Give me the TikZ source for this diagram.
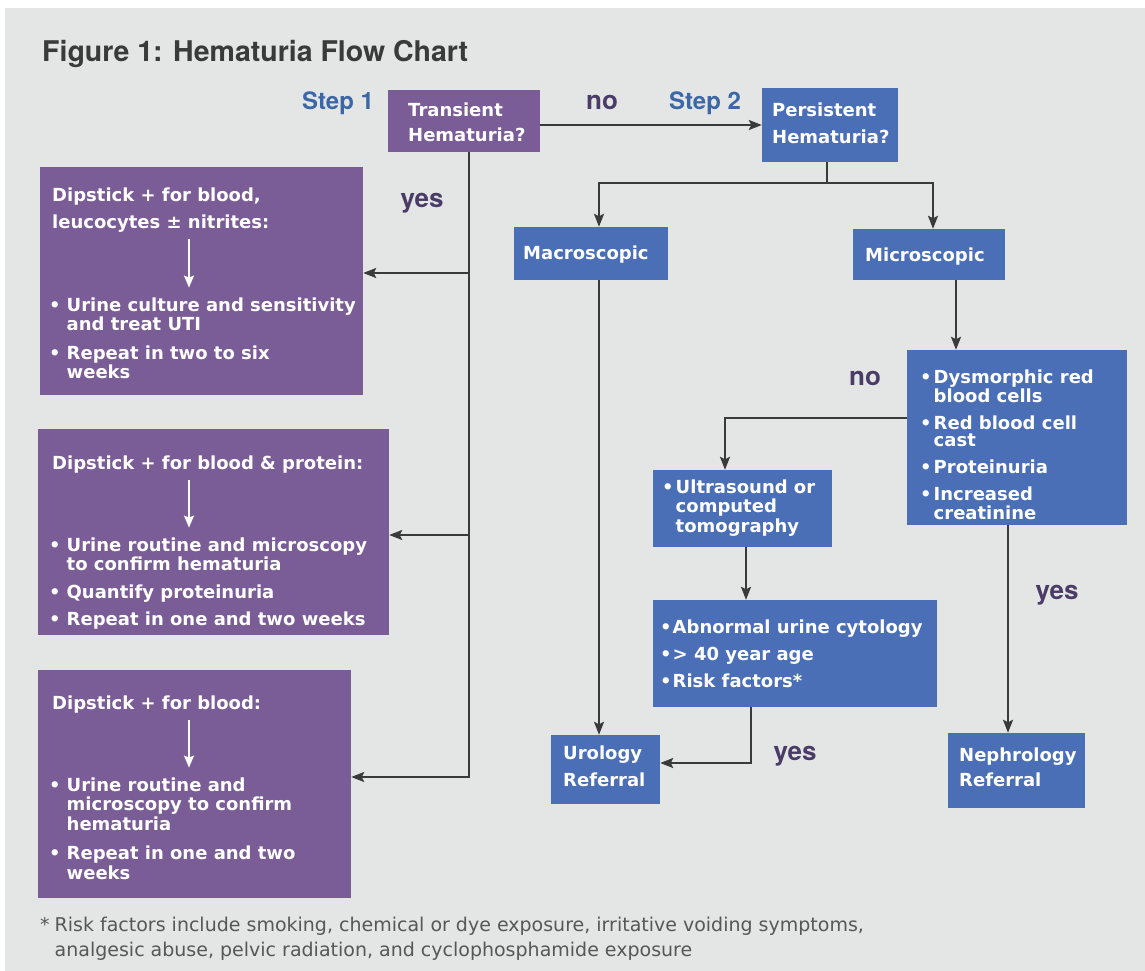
\documentclass[tikz,border=0pt]{standalone}
\usepackage{fontspec}
\setmainfont{TeX Gyre Heros}
\newfontfamily\boxfont{DejaVu Sans}
\usetikzlibrary{arrows.meta}
\definecolor{bgc}{RGB}{227,230,229}
\definecolor{purp}{RGB}{122,92,151}
\definecolor{blu}{RGB}{74,111,183}
\definecolor{stepc}{RGB}{60,102,166}
\definecolor{ansc}{RGB}{74,59,103}
\definecolor{linec}{RGB}{58,58,58}
\newcommand\lines[1]{\begin{tabular}[t]{@{}l@{}}#1\end{tabular}}
\newcommand\blist[2][2pt]{\begin{tabular}[t]{@{}l@{\hspace{#1}}l@{}}#2\end{tabular}}

\begin{document}
\begin{tikzpicture}[x=1pt, y=-1pt, >={Stealth[length=13pt,width=10pt,inset=2.5pt]}, pb/.style={fill=purp, inner sep=0pt}, bb/.style={fill=blu, inner sep=0pt}, tx/.style={anchor=base west, inner sep=0pt, text=white, font=\boxfont\bfseries\fontsize{18pt}{#1}\selectfont}, tx/.default=19pt, ln/.style={draw=linec, line width=2pt}, wa/.style={draw=white, line width=1.8pt, -{Stealth[length=12pt,width=10pt,inset=2pt]}, shorten <=2pt, shorten >=10pt}, stp/.style={anchor=base, inner sep=0pt, text=stepc, font=\bfseries\fontsize{24pt}{24pt}\selectfont}, ans/.style={anchor=base, inner sep=0pt, text=ansc, font=\bfseries\fontsize{26pt}{26pt}\selectfont}]
	\useasboundingbox (0,0) rectangle (1145,971);
	\fill[white] (0,0) rectangle (1145,971);
	\fill[bgc] (5,8) rectangle (1145,971);
	\node[anchor=base west, inner sep=0pt, text=linec, font=\bfseries\fontsize{28.5pt}{30pt}\selectfont] (title) at (42,62) {Figure 1: Hematuria Flow Chart};
	\node[pb, minimum width=152pt, minimum height=62pt] (trans) at (464,121) {};
	\node[tx=25pt] (trans-t) at (408,116.5) {\lines{Transient\\Hematuria?}};
	\node[bb, minimum width=136pt, minimum height=74pt] (pers) at (830,125) {};
	\node[tx=27pt] (pers-t) at (772,116.5) {\lines{Persistent\\Hematuria?}};
	\node[bb, minimum width=154pt, minimum height=53pt] (macro) at (591,253.5) {};
	\node[tx] (macro-t) at (523,259.5) {Macroscopic};
	\node[bb, minimum width=152pt, minimum height=51pt] (micro) at (929,254.5) {};
	\node[tx] (micro-t) at (865,261.5) {Microscopic};
	\node[bb, minimum width=220pt, minimum height=175pt] (dysm) at (1017,437.5) {};
	\node[tx=17pt] (dysm-t) at (920,383.5) {\blist{•&Dysmorphic red\\&blood cells\\[8pt]•&Red blood cell\\&cast\\[8pt]•&Proteinuria\\[8pt]•&Increased\\&creatinine}};
	\node[bb, minimum width=179pt, minimum height=77pt] (ultra) at (742.5,508.5) {};
	\node[tx] (ultra-t) at (662,493.5) {\blist{•&Ultrasound or\\&computed\\&tomography}};
	\node[bb, minimum width=284pt, minimum height=107pt] (abn) at (795,653.5) {};
	\node[tx] (abn-t) at (660,633.5) {\blist[1pt]{•&Abnormal urine cytology\\[8pt]•&> 40 year age\\[8pt]•&Risk factors*}};
	\node[bb, minimum width=109pt, minimum height=69pt] (uro) at (605.5,769.5) {};
	\node[tx=27pt] (uro-t) at (563,759.5) {\lines{Urology\\Referral}};
	\node[bb, minimum width=137pt, minimum height=75pt] (neph) at (1016.5,770.5) {};
	\node[tx=25pt] (neph-t) at (959,761.5) {\lines{Nephrology\\Referral}};
	\node[pb, minimum width=323pt, minimum height=228pt] (d1) at (201.5,281) {};
	\node[pb, minimum width=351pt, minimum height=206pt] (d2) at (213.5,532) {};
	\node[pb, minimum width=313pt, minimum height=228pt] (d3) at (194.5,784) {};
	\node[tx=27pt] (hd1) at (52,201.5) {\lines{Dipstick + for blood,\\leucocytes ± nitrites:}};
	\node[tx=27pt] (hd2) at (52,469.5) {\lines{Dipstick + for blood \& protein:}};
	\node[tx=27pt] (hd3) at (52,709.5) {\lines{Dipstick + for blood:}};
	\node[tx] (ls1) at (49,311.5) {\blist[6pt]{•&Urine culture and sensitivity\\&and treat UTI\\[9pt]•&Repeat in two to six\\&weeks}};
	\node[tx] (ls2) at (49,551.5) {\blist[6pt]{•&Urine routine and microscopy\\&to confirm hematuria\\[8pt]•&Quantify proteinuria\\[8pt]•&Repeat in one and two weeks}};
	\node[tx] (ls3) at (49,791.5) {\blist[6pt]{•&Urine routine and\\&microscopy to confirm\\&hematuria\\[10pt]•&Repeat in one and two\\&weeks}};
	\node[stp] (s1) at (338,110) {Step 1};
	\node[stp] (s2) at (705,110) {Step 2};
	\node[ans] (no1) at (602,110) {no};
	\node[ans] (yes1) at (422,207) {yes};
	\node[ans] (no2) at (865,385) {no};
	\node[ans] (yes2) at (1057,599) {yes};
	\node[ans] (yes3) at (795,760) {yes};
	\node[anchor=base west, inner sep=0pt, text=linec!85, font=\boxfont\fontsize{19pt}{25pt}\selectfont] (note) at (40,931) {\blist[5pt]{*&Risk factors include smoking, chemical or dye exposure, irritative voiding symptoms,\\&analgesic abuse, pelvic radiation, and cyclophosphamide exposure}};
	\coordinate (xw) at (189,0);
	\foreach \i in {1,2,3} {\draw[wa] (hd\i.south -| xw) -- (ls\i.north -| xw);}
	\foreach \i/\y in {1/273,2/535,3/777} {\coordinate (j\i) at (469,\y);}
	\draw[ln,->] (trans.south -| j1) -- (j3) -- (d3.east |- j3);
	\foreach \i in {1,2} {\draw[ln,->] (j\i) -- (d\i.east |- j\i);}
	\draw[ln,->] (trans.east |- pers.west) -- (pers.west);
	\coordinate (br) at (827,183); \coordinate (xa) at (599,0); \coordinate (xm) at (933,0); \coordinate (xb) at (956,0); \coordinate (k1) at (725,418); \coordinate (xc) at (746,0); \coordinate (k2) at (751,763); \coordinate (xd) at (1008,0);
	\draw[ln,->] (pers.south -| br) -- (br) -| (macro.north -| xa);
	\draw[ln,->] (br) -| (micro.north -| xm);
	\draw[ln,->] (macro.south -| xa) -- (uro.north -| xa);
	\draw[ln,->] (micro.south -| xb) -- (dysm.north -| xb);
	\draw[ln,->] (dysm.west |- k1) -| (ultra.north -| k1);
	\draw[ln,->] (ultra.south -| xc) -- (abn.north -| xc);
	\draw[ln,->] (abn.south -| k2) |- (uro.east |- k2);
	\draw[ln,->] (dysm.south -| xd) -- (neph.north -| xd);
\end{tikzpicture}
\end{document}
